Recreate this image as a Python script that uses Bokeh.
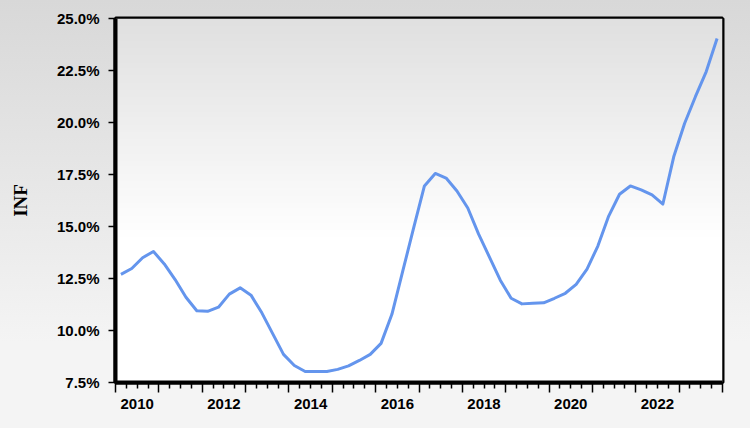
import numpy as np
from bokeh.plotting import figure
from bokeh.models import FixedTicker, LinearAxis, Range1d, PrintfTickFormatter
from bokeh.embed import file_html
from bokeh.resources import INLINE

# Quarterly inflation (%), 2010Q1 .. 2023Q4
start_year = 2010
inf = [12.70, 12.98, 13.50, 13.80, 13.20, 12.45, 11.60, 10.95,
       10.92, 11.12, 11.75, 12.05, 11.70, 10.85, 9.85, 8.85,
       8.32, 8.03, 8.03, 8.03, 8.13, 8.30, 8.56, 8.85,
       9.38, 10.78, 12.85, 14.92, 16.95, 17.55, 17.33, 16.71,
       15.89, 14.63, 13.53, 12.42, 11.55, 11.28, 11.31, 11.33,
       11.55, 11.79, 12.22, 12.95, 14.06, 15.50, 16.55, 16.95,
       16.76, 16.52, 16.08, 18.35, 19.95, 21.24, 22.45, 24.04]

year_ticks = list(range(2010, 2025))
label_years = [2010, 2012, 2014, 2016, 2018, 2020, 2022]
y_ticks = [7.5, 10.0, 12.5, 15.0, 17.5, 20.0, 22.5, 25.0]

x = [start_year + 0.125 + 0.25 * i for i in range(len(inf))]
x0, x1 = year_ticks[0], year_ticks[-1]
y0, y1 = y_ticks[0], y_ticks[-1]

p = figure(width=750, height=428, output_backend="svg", toolbar_location=None,
           x_range=Range1d(x0, x1), y_range=Range1d(y0, y1),
           x_axis_type=None,
           min_border_left=115, min_border_right=28,
           min_border_top=18, min_border_bottom=46)

p.border_fill_alpha = 0
p.styles = {"background": "linear-gradient(#d8d8d8, #f4f4f4 80%)"}
p.background_fill_color = "white"
p.outline_line_color = "black"
p.outline_line_width = 4
p.ygrid.grid_line_color = None

# plot-area vertical gradient
n = 200
t = np.linspace(0, 1, n)  # 0 bottom, 1 top
g = np.where(t < 0.4, 255, 255 - (255 - 224) * (t - 0.4) / 0.6).astype(np.uint32)
col = (255 << 24) | (g << 16) | (g << 8) | g
img = np.repeat(col.reshape(n, 1), 2, axis=1).astype(np.uint32)
p.image_rgba(image=[img], x=x0, y=y0, dw=x1 - x0, dh=y1 - y0, level="image")

p.line(x, inf, line_color="#6495ED", line_width=3, line_join="round")

font = "Liberation Sans"

# y axis
ya = p.yaxis[0]
ya.ticker = FixedTicker(ticks=y_ticks)
ya.formatter = PrintfTickFormatter(format="%.1f%%")
ya.axis_line_width = 4
ya.major_tick_in = 0
ya.major_tick_out = 7
ya.major_tick_line_width = 1.5
ya.minor_tick_line_color = None
ya.major_label_text_font = font
ya.major_label_text_font_style = "bold"
ya.major_label_text_font_size = "15px"
ya.major_label_text_color = "black"
ya.major_label_standoff = 9
ya.axis_label = "INF"
ya.axis_label_text_font = "Liberation Serif"
ya.axis_label_text_font_style = "bold"
ya.axis_label_text_font_size = "19px"
ya.axis_label_text_color = "black"
ya.axis_label_standoff = 23

# x axis: ticks only (year starts, quarterly minor), its labels not drawn
quarter_ticks = [y + q * 0.25 for y in year_ticks[:-1] for q in range(1, 4)]
xa = LinearAxis(ticker=FixedTicker(ticks=year_ticks, minor_ticks=quarter_ticks),
                axis_line_width=4, major_tick_in=0, major_tick_out=10,
                minor_tick_in=0, minor_tick_out=6,
                major_tick_line_width=1.5, minor_tick_line_width=1.5,
                major_label_text_font_size="1px", major_label_text_color=None,
                major_label_standoff=0)
p.add_layout(xa, "below")

# x axis: labels at mid-year
xl = LinearAxis(ticker=FixedTicker(ticks=[y + 0.5 for y in label_years]),
                major_label_overrides={y + 0.5: str(y) for y in label_years},
                axis_line_color=None, major_tick_line_color=None,
                minor_tick_line_color=None, major_tick_out=0, major_tick_in=0,
                major_label_standoff=6,
                major_label_text_font=font, major_label_text_font_style="bold",
                major_label_text_font_size="15px", major_label_text_color="black")
p.add_layout(xl, "below")

open("out.html", "w").write(file_html(p, INLINE))
